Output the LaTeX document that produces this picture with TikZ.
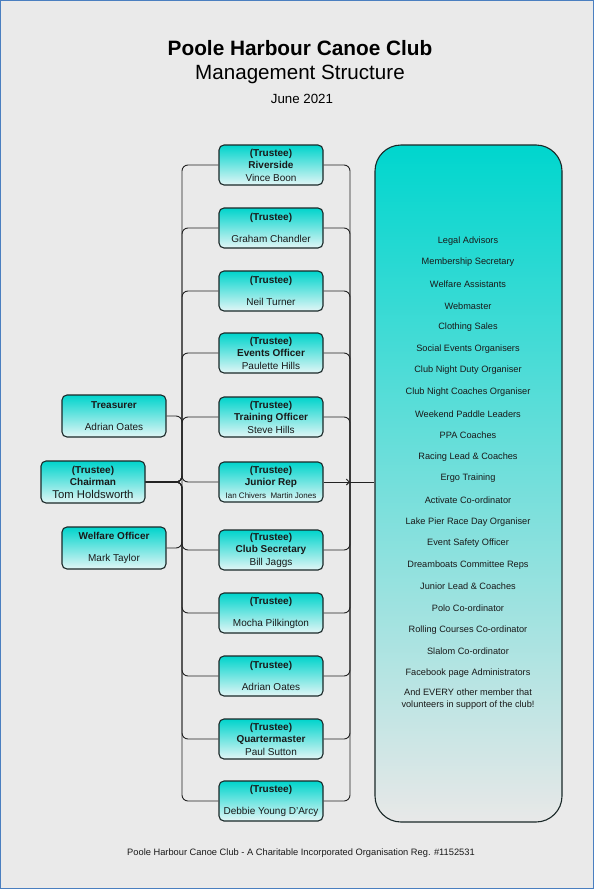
\documentclass[tikz,border=0pt]{standalone}
\usepackage{fontspec}
\setmainfont{Liberation Sans}
\usetikzlibrary{arrows.meta}
\definecolor{bg}{RGB}{234,234,234}
\definecolor{frameblue}{RGB}{74,127,192}
\definecolor{boxtop}{RGB}{0,212,204}
\definecolor{boxbot}{RGB}{226,246,246}
\definecolor{boxline}{RGB}{26,40,40}
\definecolor{bigtop}{RGB}{0,214,206}
\definecolor{bigmid}{RGB}{110,222,218}
\definecolor{bigbot}{RGB}{232,232,232}
\definecolor{conncol}{RGB}{35,35,35}
\definecolor{txt}{RGB}{25,25,25}
\tikzset{
  tbox/.style={draw=boxline, line width=1.1pt, rounded corners=5pt, top color=boxtop, bottom color=boxbot,
    minimum width=104pt, minimum height=40pt, inner sep=0pt, align=center, text=txt,
    font=\fontsize{10}{12.5}\selectfont},
  lbox/.style={tbox, minimum height=42pt},
  bigbox/.style={draw=boxline, line width=1.1pt, rounded corners=26pt, top color=bigtop, middle color=bigmid, bottom color=bigbot,
    minimum width=187pt, minimum height=677pt, inner sep=0pt},
  conn/.style={draw=conncol, line width=0.9pt, rounded corners=6pt},
  item/.style={text=txt, font=\fontsize{9.2}{12}\selectfont, align=center, inner sep=0pt},
}
\begin{document}
\begin{tikzpicture}[x=1pt,y=1pt]
\useasboundingbox (0,0) rectangle (594,-889);
\fill[bg] (0,0) rectangle (594,-889);
\draw[frameblue, line width=1pt] (0.5,-0.5) rectangle (593.5,-888.5);

% titles
\node[text=black, font=\fontsize{20.8}{24}\selectfont\bfseries] (title) at (300,-48) {Poole Harbour Canoe Club};
\node[text=black, font=\fontsize{20.6}{24}\selectfont] (subtitle) at (300,-74) {Management Structure};
\node[text=black, font=\fontsize{13.3}{16}\selectfont] (date) at (302,-99) {June 2021};

% big box
\node[bigbox] (big) at (468.5,-483.5) {};

% bus coordinates
\coordinate (lbus) at (182,-482);
\coordinate (rbus) at (350,-482);

% trustee column
\node[tbox] (t1) at (271,-165) {\textbf{(Trustee)}\\\textbf{Riverside}\\Vince Boon};
\node[tbox] (t2) at (271,-228) {\textbf{(Trustee)}\\[9pt]Graham Chandler};
\node[tbox] (t3) at (271,-291) {\textbf{(Trustee)}\\[9pt]Neil Turner};
\node[tbox] (t4) at (271,-353) {\textbf{(Trustee)}\\\textbf{Events Officer}\\Paulette Hills};
\node[tbox] (t5) at (271,-417) {\textbf{(Trustee)}\\\textbf{Training Officer}\\Steve Hills};
\node[tbox] (t6) at (271,-482) {\textbf{(Trustee)}\\\textbf{Junior Rep}\\{\fontsize{8}{10}\selectfont Ian Chivers\ \ Martin Jones}};
\node[tbox] (t7) at (271,-550) {\textbf{(Trustee)}\\\textbf{Club Secretary}\\Bill Jaggs};
\node[tbox] (t8) at (271,-613) {\textbf{(Trustee)}\\[9pt]Mocha Pilkington};
\node[tbox] (t9) at (271,-676) {\textbf{(Trustee)}\\[9pt]Adrian Oates};
\node[tbox] (t10) at (271,-739) {\textbf{(Trustee)}\\\textbf{Quartermaster}\\Paul Sutton};
\node[tbox] (t11) at (271,-801) {\textbf{(Trustee)}\\[9pt]Debbie Young D'Arcy};

% left column
\node[lbox] (treas) at (114,-416) {\textbf{Treasurer}\\[10pt]Adrian Oates};
\node[lbox] (chair) at (93,-482) {\textbf{(Trustee)}\\\textbf{Chairman}\\{\fontsize{11.3}{13}\selectfont Tom Holdsworth}};
\node[lbox] (welf) at (114,-548) {\textbf{Welfare Officer}\\[10pt]Mark Taylor};

% left connectors
\foreach \i in {1,...,11} {
  \draw[conn] (chair.east) -- (lbus) |- (t\i.west);
}
\draw[conn] (treas.east) -| (lbus);
\draw[conn] (welf.east) -| (lbus);

% right connectors
\foreach \i in {1,2,3,4,5,7,8,9,10,11} {
  \draw[conn] (t\i.east) -| (rbus);
}
\draw[draw=conncol, line width=0.9pt, -{Straight Barb[length=3pt,width=6pt]}] (t6.east) -- (rbus);
\draw[draw=conncol, line width=0.9pt] (rbus) -- (rbus -| big.west);

% list
\node[item] (l1) at (468,-241) {Legal Advisors};
\node[item] (l2) at (468,-262.6) {Membership Secretary};
\node[item] (l3) at (468,-284.2) {Welfare Assistants};
\node[item] (l4) at (468,-305.8) {Webmaster};
\node[item] (l5) at (468,-327.4) {Clothing Sales};
\node[item] (l6) at (468,-349) {Social Events Organisers};
\node[item] (l7) at (468,-370.6) {Club Night Duty Organiser};
\node[item] (l8) at (468,-392.2) {Club Night Coaches Organiser};
\node[item] (l9) at (468,-413.8) {Weekend Paddle Leaders};
\node[item] (l10) at (468,-435.4) {PPA Coaches};
\node[item] (l11) at (468,-457) {Racing Lead \& Coaches};
\node[item] (l12) at (468,-478.6) {Ergo Training};
\node[item] (l13) at (468,-500.2) {Activate Co-ordinator};
\node[item] (l14) at (468,-521.8) {Lake Pier Race Day Organiser};
\node[item] (l15) at (468,-543.4) {Event Safety Officer};
\node[item] (l16) at (468,-565) {Dreamboats Committee Reps};
\node[item] (l17) at (468,-586.6) {Junior Lead \& Coaches};
\node[item] (l18) at (468,-608.2) {Polo Co-ordinator};
\node[item] (l19) at (468,-629.8) {Rolling Courses Co-ordinator};
\node[item] (l20) at (468,-651.4) {Slalom Co-ordinator};
\node[item] (l21) at (468,-673) {Facebook page Administrators};
\node[item] (l22) at (468,-699.5) {And EVERY other member that\\volunteers in support of the club!};

% footer
\node[text=txt, font=\fontsize{9.3}{11}\selectfont] (footer) at (301,-853) {Poole Harbour Canoe Club - A Charitable Incorporated Organisation Reg. \#1152531};
\end{tikzpicture}
\end{document}
